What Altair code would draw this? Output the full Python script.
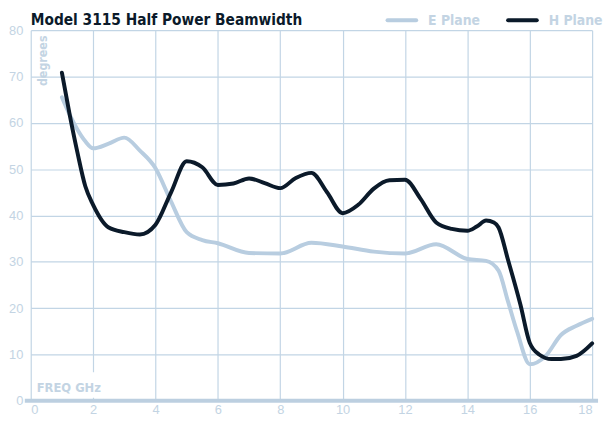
import altair as alt
import pandas as pd

# ---- data ----
e_freq = [1.0, 1.25, 1.5, 1.75, 2.0, 2.5, 3.0, 3.5, 4.0, 4.5, 5.0, 5.5, 6.0, 7.0, 8.0,
          9.0, 10.0, 11.0, 12.0, 13.0, 14.0, 14.6, 15.0, 15.3, 15.6, 16.0, 16.5, 17.0, 17.5, 18.0]
e_deg = [65.5, 61.7, 58.5, 56.0, 54.5, 55.5, 56.8, 54.0, 50.2, 43.0, 36.4, 34.7, 34.0, 31.9, 31.8,
         34.1, 33.3, 32.2, 31.8, 33.8, 30.6, 30.2, 28.1, 21.5, 14.8, 7.9, 9.6, 14.2, 16.2, 17.7]

h_freq = [1.0, 1.25, 1.5, 1.75, 2.0, 2.5, 3.0, 3.5, 4.0, 4.5, 5.0, 5.5, 6.0, 6.5, 7.0, 7.5,
          8.0, 8.5, 9.0, 9.5, 10.0, 10.5, 11.0, 11.5, 12.0, 12.5, 13.0, 13.5, 14.0, 14.3,
          14.6, 14.85, 15.0, 15.3, 15.7, 16.0, 16.3, 16.7, 17.0, 17.5, 18.0]
h_deg = [70.8, 61.7, 53.5, 46.3, 42.3, 37.4, 36.4, 35.9, 38.0, 45.0, 51.7, 50.4, 46.6, 46.9, 48.0, 47.0,
         45.9, 48.1, 49.2, 45.0, 40.5, 42.3, 45.8, 47.6, 47.7, 43.6, 38.5, 37.1, 36.7, 37.6,
         38.9, 38.5, 37.4, 30.5, 20.8, 12.5, 10.0, 9.0, 9.0, 9.7, 12.4]

series_names = ["E Plane", "H Plane"]
series_colors = ["#b8cde0", "#0b1a2a"]
x_ticks = list(range(0, 19, 2))
y_ticks = list(range(0, 81, 10))
title_text = "Model 3115 Half Power Beamwidth"

df = pd.concat([
    pd.DataFrame({"freq": e_freq, "deg": e_deg, "plane": series_names[0], "order": range(len(e_freq))}),
    pd.DataFrame({"freq": h_freq, "deg": h_deg, "plane": series_names[1], "order": range(len(h_freq))}),
])

light = "#c3d4e3"
cond = "DejaVu Sans Condensed, DejaVu Sans, sans-serif"
W, H = 568, 375

x_enc = alt.X("freq:Q", scale=alt.Scale(domain=[0, 18], nice=False),
              axis=alt.Axis(values=x_ticks, title=None, labelPadding=3))
y_enc = alt.Y("deg:Q", scale=alt.Scale(domain=[0, 80], nice=False),
              axis=alt.Axis(values=y_ticks, title=None, labelPadding=8, minExtent=0))

lines = alt.Chart(df).mark_line(interpolate="monotone", strokeWidth=4, strokeCap="round").encode(
    x=x_enc,
    y=y_enc,
    color=alt.Color("plane:N", scale=alt.Scale(domain=series_names, range=series_colors), legend=None),
    order="order:Q",
)

# legend drawn as marks above the plot (one entry per series)
legend_layers = []
leg_x = [359, 481]
for name, col, lx in zip(series_names, series_colors, leg_x):
    one = pd.DataFrame({"plane": [name]})
    legend_layers.append(
        alt.Chart(one).mark_rule(color=col, strokeWidth=4, strokeCap="round").encode(
            x=alt.value(lx + 2), x2=alt.value(lx + 31), y=alt.value(-10)))
    legend_layers.append(
        alt.Chart(one).mark_text(align="left", baseline="middle", font=cond, fontSize=14,
                                 fontWeight="bold", color=light).encode(
            x=alt.value(lx + 43), y=alt.value(-9), text="plane:N"))

title = alt.Chart(pd.DataFrame({"t": [title_text]})).mark_text(
    align="left", baseline="alphabetic", font=cond, fontSize=15.5, fontWeight="bold", color="#0b1a2a"
).encode(x=alt.value(0), y=alt.value(-5), text="t:N")

# white patch behind the x-axis caption (hides the grid there)
patch = alt.Chart(pd.DataFrame({"a": [0]})).mark_rect(color="white").encode(
    x=alt.value(3), x2=alt.value(76), y=alt.value(H - 29), y2=alt.value(H - 3))

baseline = alt.Chart(pd.DataFrame({"a": [0]})).mark_rule(color="#bccfe0", strokeWidth=4).encode(
    x=alt.value(-6), x2=alt.value(W + 6), y=alt.datum(0, type="quantitative"))

xcap = alt.Chart(pd.DataFrame({"t": ["FREQ  GHz"]})).mark_text(
    align="left", baseline="middle", font=cond, fontSize=13, fontWeight="bold", color=light
).encode(x=alt.value(6), y=alt.value(H - 13), text="t:N")

ycap = alt.Chart(pd.DataFrame({"t": ["degrees"]})).mark_text(
    align="center", baseline="middle", angle=270, font=cond, fontSize=12.5, fontWeight="bold", color=light
).encode(x=alt.value(12), y=alt.value(31), text="t:N")

chart = alt.layer(patch, baseline, lines, xcap, ycap, title, *legend_layers).properties(
    width=W, height=H,
    padding={"left": 0, "top": 3, "right": 0, "bottom": 0},
).configure_view(stroke=None).configure_axis(
    domain=False, ticks=False, grid=True, gridColor="#c2d5e5", gridWidth=1.2,
    labelColor=light, labelFontSize=13, labelFont="Liberation Sans, Arial, sans-serif",
)

chart.save("out.html", embed_options={"renderer": "svg", "actions": False})
